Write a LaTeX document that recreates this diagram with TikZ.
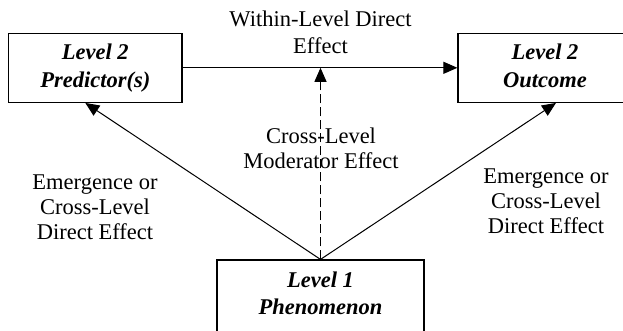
\documentclass[tikz,border=0pt]{standalone}
\usepackage{fontspec}
\setmainfont{Liberation Serif}
\usetikzlibrary{arrows.meta}
\begin{document}
\begin{tikzpicture}[x=1pt,y=-1pt,
  font=\fontsize{22.5}{25}\selectfont,
  box/.style={draw,line width=1.2pt,align=center,minimum height=69pt,inner sep=0pt,
    font=\fontsize{22.5}{28}\selectfont\bfseries\itshape},
  lbl/.style={align=center,inner sep=0pt},
  arr/.style={line width=1pt,-{Triangle[length=14pt,width=12pt]}}]
\useasboundingbox (0,0) rectangle (623,330);
\clip (0,0) rectangle (623,330);
% the three levels
\node[box,minimum width=173.5pt,
  execute at begin node={\rule{0pt}{23.4pt}},
  execute at end node={\rule[-5pt]{0pt}{5pt}}] (pred) at (95.3,67.8) {Level 2\\Predictor(s)};
\node[box,minimum width=174pt,
  execute at begin node={\rule{0pt}{23.4pt}},
  execute at end node={\rule[-5pt]{0pt}{5pt}}] (out) at (545,67.8) {Level 2\\Outcome};
\node[box,minimum width=207pt,minimum height=81.5pt,
  font=\fontsize{22.5}{26.5}\selectfont\bfseries\itshape,
  execute at begin node={\rule{0pt}{16pt}},
  execute at end node={\rule[-15pt]{0pt}{15pt}}] (phen) at (320.5,300.75) {Level 1\\Phenomenon};
\coordinate (mid) at (phen.north |- pred.east);
% effects
\draw[arr] (pred.east) -- (out.west);
\draw[arr,dash pattern=on 9pt off 4pt] (phen.north) -- (mid);
\draw[arr] (phen.north) -- ([xshift=-10pt]pred.south);
\draw[arr] (phen.north) -- ([xshift=11pt]out.south);
% labels
\node[lbl,font=\fontsize{22.5}{26}\selectfont] (within) at (320.5,32.3) {Within-Level Direct\\Effect};
\node[lbl] (moder) at (321,147.8) {Cross-Level\\Moderator Effect};
\node[lbl] (emergl) at (95,207) {Emergence or\\Cross-Level\\Direct Effect};
\node[lbl] (emergr) at (546,201) {Emergence or\\Cross-Level\\Direct Effect};
\end{tikzpicture}
\end{document}
